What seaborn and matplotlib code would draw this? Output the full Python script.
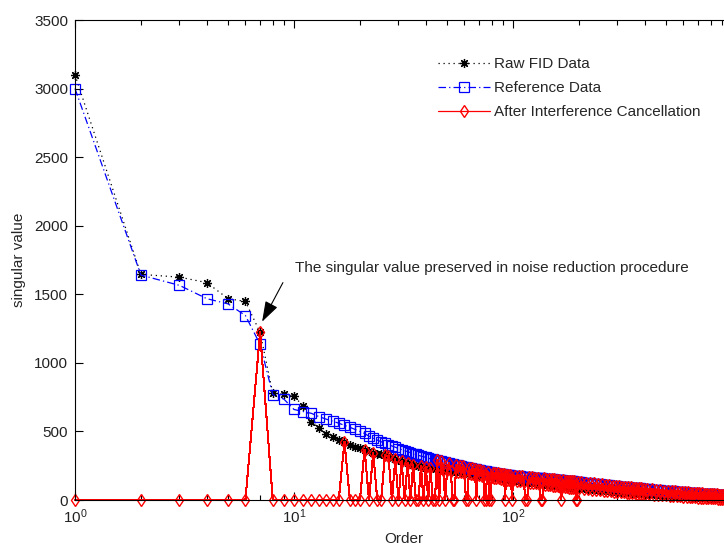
import matplotlib
matplotlib.use("Agg")
import matplotlib.pyplot as plt
import seaborn as sns

# ============ Data ============
orders = (list(range(1, 41)) + list(range(41, 101)) + list(range(102, 201, 2))
          + list(range(205, 401, 5)) + list(range(410, 1001, 10)))

raw_fid = [
    # 1 - 40
    3100, 1645, 1625, 1585, 1468, 1448, 1222, 778, 770, 758,
    685, 568, 528, 478, 462, 440, 425, 398, 385, 378,
    368, 355, 346, 338, 332, 325, 318, 308, 300, 292,
    286, 280, 272, 265, 258, 253, 250, 246, 243, 240,
    # 41 - 100
    238, 236, 234, 232, 231, 229, 227, 226, 224, 222,
    220, 217, 215, 213, 211, 209, 207, 205, 202, 200,
    198, 197, 195, 194, 192, 191, 189, 188, 186, 185,
    183, 182, 180, 179, 177, 176, 174, 173, 171, 170,
    169, 167, 166, 165, 163, 162, 161, 159, 158, 157,
    156, 155, 154, 153, 152, 151, 150, 149, 148, 147,
    # 102 - 200
    145, 143, 142, 140, 138, 137, 135, 133, 132, 130,
    129, 128, 126, 125, 124, 122, 121, 120, 118, 117,
    116, 114, 113, 112, 110, 109, 108, 106, 105, 104,
    103, 102, 101, 100, 99, 99, 98, 97, 96, 95,
    94, 94, 93, 92, 91, 91, 90, 89, 89, 88,
    # 205 - 400
    87, 85, 84, 83, 81, 80, 79, 78, 76, 75,
    74, 72, 71, 70, 69, 68, 66, 65, 64, 63,
    62, 61, 60, 59, 58, 57, 56, 55, 54, 54,
    53, 52, 51, 51, 50, 49, 49, 48, 47, 47,
    # 410 - 1000
    46, 45, 44, 43, 42, 41, 40, 39, 38, 37,
    36, 35, 34, 34, 33, 32, 31, 30, 30, 29,
    28, 27, 27, 26, 25, 25, 24, 23, 23, 22,
    21, 21, 20, 20, 19, 19, 18, 18, 17, 17,
    16, 16, 15, 15, 14, 14, 13, 13, 12, 12,
    12, 11, 11, 10, 10, 10, 9, 9, 8, 8,
]

reference = [
    # 1 - 40
    3000, 1640, 1565, 1468, 1430, 1345, 1135, 768, 735, 660,
    645, 632, 608, 590, 575, 560, 545, 530, 515, 500,
    485, 465, 450, 437, 425, 413, 403, 394, 385, 375,
    368, 360, 352, 345, 338, 332, 326, 320, 316, 310,
    # 41 - 100
    305, 301, 297, 293, 289, 285, 281, 277, 274, 270,
    267, 264, 261, 258, 255, 252, 249, 246, 244, 241,
    239, 236, 234, 232, 229, 227, 225, 223, 220, 218,
    216, 214, 212, 211, 209, 207, 205, 203, 202, 200,
    198, 197, 195, 194, 192, 191, 190, 188, 187, 186,
    185, 184, 183, 182, 181, 180, 179, 178, 177, 176,
    # 102 - 200
    175, 174, 173, 172, 171, 170, 169, 168, 166, 165,
    164, 163, 162, 161, 160, 159, 158, 157, 156, 155,
    154, 153, 152, 151, 150, 150, 149, 148, 147, 146,
    145, 144, 143, 143, 142, 141, 140, 139, 139, 138,
    137, 136, 135, 135, 134, 133, 132, 131, 131, 130,
    # 205 - 400
    128, 127, 125, 124, 122, 120, 119, 117, 116, 114,
    112, 111, 109, 108, 106, 105, 103, 102, 100, 99,
    98, 97, 96, 95, 94, 93, 92, 91, 90, 89,
    88, 87, 86, 85, 84, 84, 83, 82, 81, 80,
    # 410 - 1000
    79, 77, 76, 74, 73, 71, 70, 69, 67, 66,
    65, 64, 63, 62, 61, 60, 59, 58, 57, 56,
    55, 54, 54, 53, 52, 51, 50, 50, 49, 48,
    47, 47, 46, 46, 45, 44, 44, 43, 43, 42,
    41, 41, 40, 40, 39, 39, 38, 38, 37, 37,
    37, 36, 36, 35, 35, 35, 34, 34, 33, 33,
]

cancelled = [
    # 1 - 40
    0, 0, 0, 0, 0, 0, 1222, 0, 0, 0,
    0, 0, 0, 0, 0, 0, 425, 0, 0, 0,
    368, 0, 346, 0, 0, 325, 318, 0, 300, 0,
    286, 0, 272, 0, 258, 0, 0, 246, 0, 240,
    # 41 - 100
    0, 232, 0, 0, 291, 0, 283, 222, 0, 218,
    269, 213, 0, 0, 257, 205, 251, 201, 246, 196,
    0, 0, 236, 190, 231, 187, 227, 0, 222, 181,
    218, 178, 214, 0, 0, 172, 207, 0, 0, 166,
    200, 163, 197, 161, 194, 158, 192, 155, 189, 153,
    187, 0, 185, 149, 183, 147, 181, 145, 0, 143,
    # 102 - 200
    177, 139, 175, 136, 173, 133, 0, 0, 168, 126,
    166, 124, 164, 121, 162, 118, 0, 0, 158, 113,
    156, 110, 154, 108, 152, 105, 151, 102, 149, 100,
    147, 98, 0, 96, 144, 95, 142, 93, 141, 91,
    139, 90, 137, 88, 136, 87, 0, 0, 133, 84,
    # 205 - 400
    130, 81, 127, 79, 124, 76, 121, 74, 118, 71,
    114, 68, 111, 66, 108, 64, 105, 61, 102, 59,
    100, 57, 98, 55, 96, 53, 94, 51, 92, 50,
    90, 48, 88, 47, 86, 45, 85, 44, 83, 43,
    # 410 - 1000
    81, 41, 78, 39, 75, 37, 72, 35, 69, 33,
    67, 31, 65, 30, 63, 28, 61, 26, 59, 25,
    57, 23, 56, 22, 54, 21, 52, 19, 51, 18,
    49, 17, 48, 16, 47, 15, 46, 14, 45, 13,
    43, 12, 42, 11, 41, 10, 40, 9, 39, 8,
    39, 7, 38, 6, 37, 6, 36, 5, 35, 4,
]

assert len(orders) == len(raw_fid) == len(reference) == len(cancelled)

y_ticks = [0, 500, 1000, 1500, 2000, 2500, 3000, 3500]
x_ticks = [1, 10, 100, 1000]
x_labels = ["$10^{0}$", "$10^{1}$", "$10^{2}$", ""]

# ============ Style ============
sns.set_style("ticks")
plt.rcParams["font.family"] = ["Liberation Sans", "DejaVu Sans"]
plt.rcParams["font.size"] = 11
plt.rcParams["mathtext.fontset"] = "custom"
plt.rcParams["mathtext.rm"] = "Liberation Sans"
plt.rcParams["mathtext.it"] = "Liberation Sans:italic"
plt.rcParams["mathtext.bf"] = "Liberation Sans:bold"

fig = plt.figure(figsize=(7.24, 5.49), dpi=100)
ax = fig.add_axes([75 / 724, 49 / 549, 657 / 724, 480 / 549])

common = dict(ax=ax, estimator=None, sort=False, clip_on=False,
              markerfacecolor="none")

sns.lineplot(x=orders, y=raw_fid, color="black", linestyle=(0, (1, 3)), marker=(8, 2, 0),
             lw=0.9, markersize=6.5, markeredgewidth=0.9, markeredgecolor="black",
             label="Raw FID Data", **common)
sns.lineplot(x=orders, y=reference, color="blue", linestyle=(0, (6, 2.5, 1, 2.5)),
             marker="s", lw=0.9, markersize=7.5, markeredgewidth=0.9,
             markeredgecolor="blue", label="Reference Data", **common)
# the dense red band is drawn without antialiasing, like the MATLAB original
sns.lineplot(x=orders, y=cancelled, color="red", linestyle="-", marker="d",
             lw=0.75, markersize=6.2, markeredgewidth=1.0, markeredgecolor="red",
             antialiased=False, label="After Interference Cancellation", **common)

# ============ Axes ============
ax.set_xscale("log")
ax.set_xlim(1, 1000)
ax.set_ylim(0, 3500)
ax.set_yticks(y_ticks)
ax.set_xticks(x_ticks)
ax.set_xticklabels(x_labels)
for s in ax.spines.values():
    s.set_color("black")
    s.set_linewidth(0.8)
ax.tick_params(which="both", direction="in", top=True, right=True,
               width=0.8, colors="black", labelcolor="#222222")
ax.tick_params(which="major", length=6, pad=5)
ax.tick_params(which="minor", length=3.5)

ax.set_xlabel("Order", labelpad=5)
ax.set_ylabel("singular value", labelpad=6)

# ============ Annotation ============
ax.text(10.1, 1690, "The singular value preserved in noise reduction procedure",
        ha="left", va="center", fontsize=11)
ax.annotate("", xy=(7.15, 1300), xytext=(8.9, 1585),
            arrowprops=dict(arrowstyle="-|>,head_length=0.9,head_width=0.3",
                            color="black", lw=0.8, mutation_scale=14,
                            shrinkA=0, shrinkB=0))

# ============ Legend ============
leg = ax.legend(loc="upper left", bbox_to_anchor=(0.552, 0.922), frameon=False,
                handlelength=3.4, handletextpad=0.3, labelspacing=0.65,
                borderpad=0, borderaxespad=0, fontsize=11)
for h in leg.get_lines():
    h.set_antialiased(True)
    h.set_linewidth(0.9)

fig.savefig("out.png", dpi=100)
